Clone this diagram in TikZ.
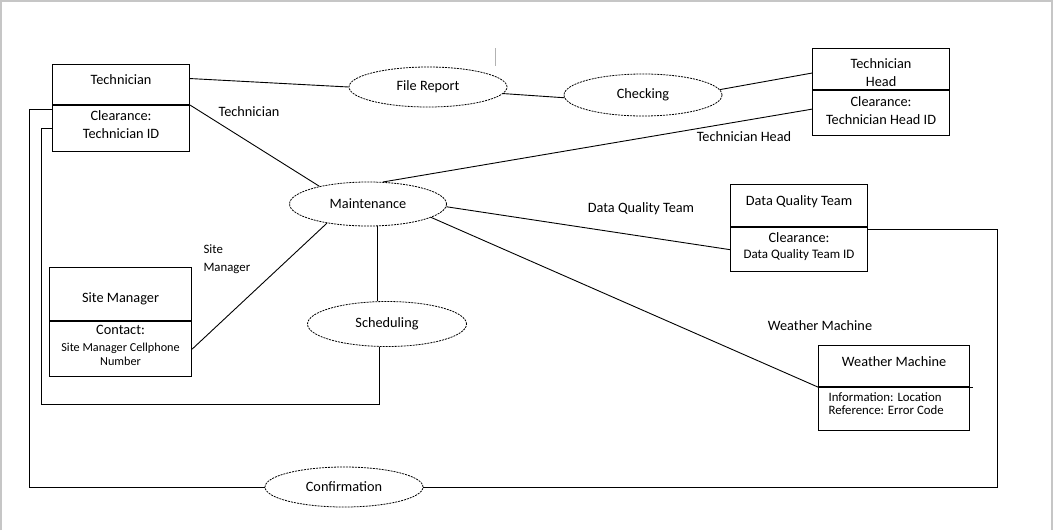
\documentclass[tikz,border=0pt]{standalone}
\usepackage{fontspec}
\setmainfont{Carlito}
\usetikzlibrary{shapes.geometric}

\begin{document}
\begin{tikzpicture}[x=1pt,y=-1pt,font=\fontsize{14.3}{18}\selectfont,
  box/.style={draw,line width=1.1pt,minimum width=137pt,inner sep=0pt,align=center},
  proc/.style={draw,ellipse,dash pattern=on 2pt off 1pt,line width=0.8pt,minimum width=158pt,minimum height=40pt,inner sep=0pt},
  link/.style={line width=0.9pt},
  small/.style={font=\fontsize{12.8}{15}\selectfont}]
  \useasboundingbox (0,0) rectangle (1056,530);
  \draw[gray!45,line width=1.5pt] (1,530) -- (1,0.75) -- (1052,0.75) -- (1052,530);
  \draw[gray!60,line width=0.6pt] (495,48) -- (495,66);

  \node[box,anchor=north west,minimum height=40pt,text depth=10pt] (techtop) at (52,64) {Technician};
  \node[box,anchor=north,minimum height=46pt,text depth=8pt] (techbot) at (techtop.south) {Clearance:\\Technician ID};

  \node[box,anchor=north west,minimum height=41pt,text height=36pt] (headtop) at (812,48) {Technician\\Head};
  \node[box,anchor=north,minimum height=45pt,text depth=6pt] (headbot) at (headtop.south) {Clearance:\\Technician Head ID};

  \node[box,anchor=north west,minimum height=42pt,text depth=11pt] (dqttop) at (730,184) {Data Quality Team};
  \node[box,anchor=north,minimum height=44pt,text depth=9pt] (dqtbot) at (dqttop.south) {Clearance:\\[-2pt]{\fontsize{13}{16}\selectfont Data Quality Team ID}};

  \node[box,anchor=north west,minimum width=142pt,minimum height=53pt,text height=20pt] (smtop) at (49,267) {Site Manager};
  \node[box,font=\fontsize{12.2}{15}\selectfont,anchor=north,minimum width=142pt,minimum height=55pt,text depth=7pt] (smbot) at (smtop.south) {{\fontsize{14.3}{18}\selectfont Contact:}\\[2pt]Site Manager Cellphone\\[-1pt]Number};

  \node[box,anchor=north west,minimum width=151pt,minimum height=41pt,text depth=10pt] (wmtop) at (818,345) {Weather Machine};
  \node[box,small,anchor=north,minimum height=43pt,text width=131pt,inner xsep=10pt,align=flush left,text depth=24pt] (wmbot) at (wmtop.south) {Information:\hspace{4pt}Location\\[-2pt]Reference: Error Code};
  \draw[line width=1.1pt] (wmbot.north east) -- ++(3,0);

  \node[proc] (frep) at (428,87) {File Report};
  \node[proc,minimum height=42pt] (chk) at (643,95) {Checking};
  \node[proc,minimum width=157pt,minimum height=44pt] (maint) at (368,204) {Maintenance};
  \node[proc,minimum width=159pt,minimum height=45pt] (sched) at (387,324) {Scheduling};
  \node[proc] (conf) at (344,487) {Confirmation};

  \node (lbltech) at (249,112) {Technician};
  \node (lblhead) at (744,137) {Technician Head};
  \node (lbldqt) at (641,209) {Data Quality Team};
  \node[small,align=left,anchor=west] (lblsite) at (200,259) {Site\\[3pt]Manager};
  \node (lblwm) at (820,326) {Weather Machine};

  \draw[link] ([yshift=6pt]techtop.east) -- (frep.west);
  \draw[link] (frep.-5) -- (chk.182);
  \draw[link] (chk.4) -- ([yshift=-4pt]headtop.west);
  \draw[link] (techbot.north east) -- (maint.160);
  \draw[link] ([yshift=4pt]headbot.west) -- (maint.56);
  \draw[link] (maint.-2) -- (dqtbot.west);
  \draw[link] (maint.-12) -- (wmtop.south west);
  \draw[link] (smbot.east) -- (maint.205);
  \draw[link] (maint.-68) -- (maint.-68 |- sched.north);
  \draw[link] (sched.-108) -- ++(0,58) -| ([xshift=-11pt]techbot.west) -- (techbot.west);
  \draw[link] ([yshift=-4pt]techbot.north west) -- ++(-23,0) |- (conf.west);
  \draw[link] ([yshift=-2pt]dqtbot.north east) -- ++(129,0) |- (conf.east);
\end{tikzpicture}
\end{document}
